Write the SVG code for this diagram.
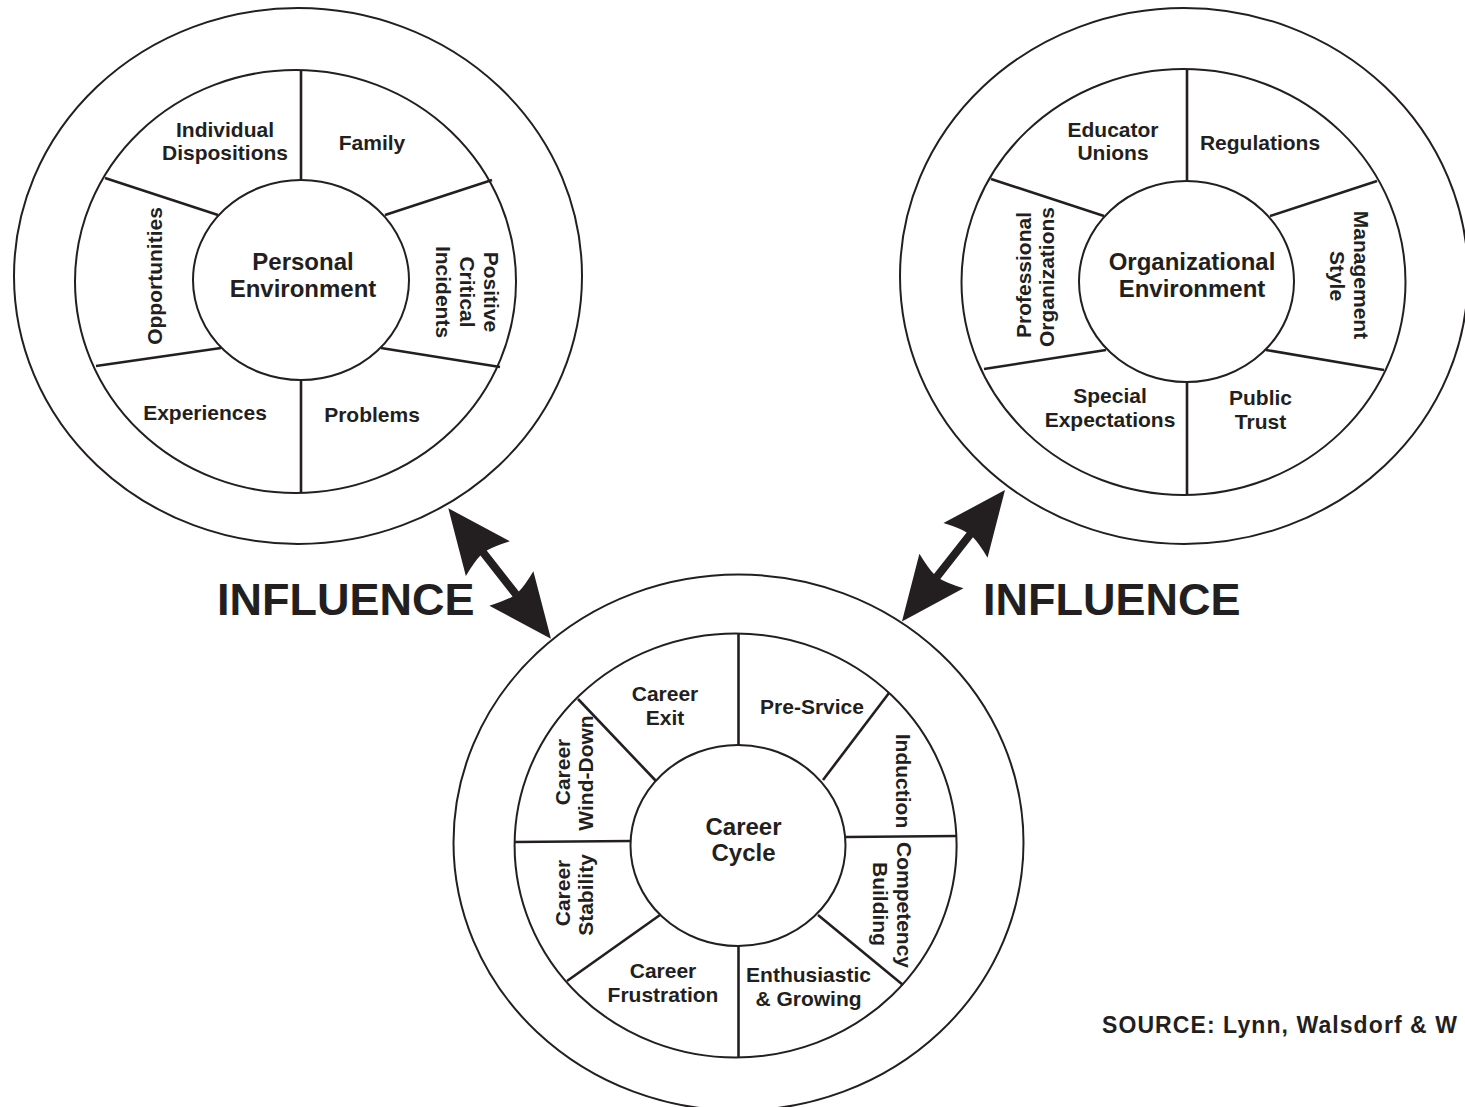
<svg xmlns="http://www.w3.org/2000/svg" width="1465" height="1107" viewBox="0 0 1465 1107">
<style>
.ring{fill:none;stroke:#231f20;stroke-width:2}
.div{fill:none;stroke:#231f20;stroke-width:2.6}
.lbl{font-family:"Liberation Sans",Arial,sans-serif;font-weight:bold;font-size:21px;fill:#231f20;text-anchor:middle}
.ctr{font-family:"Liberation Sans",Arial,sans-serif;font-weight:bold;font-size:24px;fill:#231f20;text-anchor:middle}
.big{font-family:"Liberation Sans",Arial,sans-serif;font-weight:bold;font-size:45px;fill:#231f20}
.src{font-family:"Liberation Sans",Arial,sans-serif;font-weight:bold;font-size:23px;fill:#231f20}
.arr{fill:#231f20;stroke:none}
</style>
<rect width="1465" height="1107" fill="#ffffff"/>

<g id="personal-environment">
<ellipse class="ring" cx="298" cy="276" rx="284" ry="268"/>
<ellipse class="ring" cx="295.5" cy="281.5" rx="220.5" ry="211.5"/>
<ellipse class="ring" cx="301" cy="280" rx="108" ry="100"/>
<line class="div" x1="301" y1="70" x2="301" y2="180"/>
<line class="div" x1="301" y1="380" x2="301" y2="493"/>
<line class="div" x1="105" y1="178" x2="218" y2="215"/>
<line class="div" x1="492" y1="180" x2="385" y2="215"/>
<line class="div" x1="96" y1="366" x2="221" y2="348"/>
<line class="div" x1="500" y1="367" x2="381" y2="348"/>
<text class="lbl" x="225" y="137">Individual</text>
<text class="lbl" x="225" y="160">Dispositions</text>
<text class="lbl" x="372" y="150">Family</text>
<text class="lbl" transform="translate(162,276) rotate(-90)">Opportunities</text>
<text class="lbl" transform="translate(484,292) rotate(90)">Positive</text>
<text class="lbl" transform="translate(460,292) rotate(90)">Critical</text>
<text class="lbl" transform="translate(436,292) rotate(90)">Incidents</text>
<text class="lbl" x="205" y="420">Experiences</text>
<text class="lbl" x="372" y="422">Problems</text>
<text class="ctr" x="303" y="270">Personal</text>
<text class="ctr" x="303" y="297">Environment</text>
</g>

<g id="organizational-environment">
<ellipse class="ring" cx="1184" cy="276" rx="284" ry="268"/>
<ellipse class="ring" cx="1183.5" cy="282" rx="222" ry="213"/>
<ellipse class="ring" cx="1186.5" cy="281.5" rx="107.5" ry="100.5"/>
<line class="div" x1="1187" y1="69" x2="1187" y2="181"/>
<line class="div" x1="1187" y1="382" x2="1187" y2="495"/>
<line class="div" x1="991" y1="179" x2="1104" y2="216"/>
<line class="div" x1="1377" y1="181" x2="1270" y2="216"/>
<line class="div" x1="984" y1="369" x2="1106" y2="350"/>
<line class="div" x1="1384" y1="370" x2="1266" y2="350"/>
<text class="lbl" x="1113" y="137">Educator</text>
<text class="lbl" x="1113" y="160">Unions</text>
<text class="lbl" x="1260" y="150">Regulations</text>
<text class="lbl" transform="translate(1031,275) rotate(-90)">Professional</text>
<text class="lbl" transform="translate(1054,277) rotate(-90)">Organizations</text>
<text class="lbl" transform="translate(1354,275) rotate(90)">Management</text>
<text class="lbl" transform="translate(1330,276) rotate(90)">Style</text>
<text class="lbl" x="1110" y="403">Special</text>
<text class="lbl" x="1110" y="427">Expectations</text>
<text class="lbl" x="1260.5" y="405">Public</text>
<text class="lbl" x="1260.5" y="429">Trust</text>
<text class="ctr" x="1192" y="270">Organizational</text>
<text class="ctr" x="1192" y="297">Environment</text>
</g>

<g id="career-cycle">
<ellipse class="ring" cx="738.5" cy="842.5" rx="285" ry="268"/>
<ellipse class="ring" cx="735.6" cy="845.5" rx="221" ry="212"/>
<ellipse class="ring" cx="738" cy="845.5" rx="107.5" ry="100.5"/>
<line class="div" x1="738.5" y1="634" x2="738.5" y2="745"/>
<line class="div" x1="738.5" y1="946" x2="738.5" y2="1058"/>
<line class="div" x1="889" y1="693" x2="823" y2="780"/>
<line class="div" x1="846" y1="837" x2="957" y2="836"/>
<line class="div" x1="818" y1="915" x2="903" y2="985"/>
<line class="div" x1="660" y1="915" x2="567" y2="981"/>
<line class="div" x1="514" y1="842" x2="631" y2="841"/>
<line class="div" x1="578" y1="699" x2="656" y2="781"/>
<text class="lbl" x="665" y="701">Career</text>
<text class="lbl" x="665" y="725">Exit</text>
<text class="lbl" x="812" y="714">Pre-Srvice</text>
<text class="lbl" transform="translate(895.5,781) rotate(90)">Induction</text>
<text class="lbl" transform="translate(896.5,905) rotate(90)">Competency</text>
<text class="lbl" transform="translate(872.5,904) rotate(90)">Building</text>
<text class="lbl" x="808.5" y="982">Enthusiastic</text>
<text class="lbl" x="808.5" y="1006">&amp; Growing</text>
<text class="lbl" x="663" y="978">Career</text>
<text class="lbl" x="663" y="1002">Frustration</text>
<text class="lbl" transform="translate(570,893) rotate(-90)">Career</text>
<text class="lbl" transform="translate(593,895) rotate(-90)">Stability</text>
<text class="lbl" transform="translate(570,772) rotate(-90)">Career</text>
<text class="lbl" transform="translate(593,773) rotate(-90)">Wind-Down</text>
<text class="ctr" x="743.5" y="835">Career</text>
<text class="ctr" x="743.5" y="861">Cycle</text>
</g>

<g id="connectors">
<path class="arr" transform="translate(448.3,508.3) rotate(51.8)" d="M0,0 L64,-28 Q58,-12 57,-4 L109,-4 Q108,-12 102,-28 L166,0 L102,28 Q108,12 109,4 L57,4 Q58,12 64,28 Z"/>
<path class="arr" transform="translate(1005,490) rotate(128.1)" d="M0,0 L64,-28 Q58,-12 57,-4 L110,-4 Q109,-12 103,-28 L167,0 L103,28 Q109,12 110,4 L57,4 Q58,12 64,28 Z"/>
</g>

<g id="labels">
<text class="big" x="217" y="615">INFLUENCE</text>
<text class="big" x="983" y="615">INFLUENCE</text>
<text class="src" x="1102" y="1033" textLength="355" lengthAdjust="spacing">SOURCE: Lynn, Walsdorf &amp; W</text>
</g>
</svg>
